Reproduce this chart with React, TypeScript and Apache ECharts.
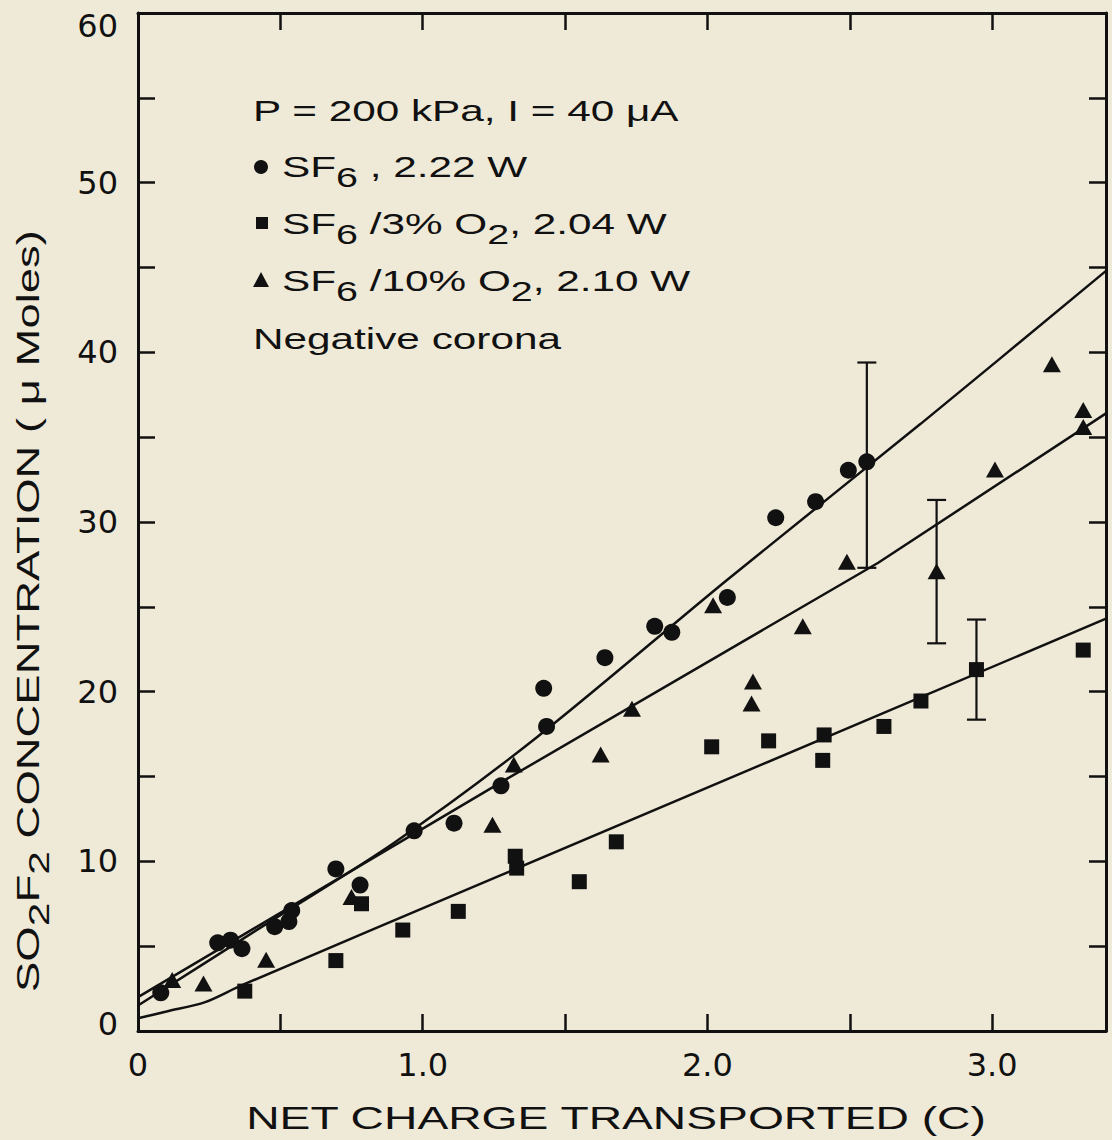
import React, { useEffect, useRef } from 'react';
import * as echarts from 'echarts';

// ---- tick labels ----
const xTickValues = [0, 1, 2, 3];
const xTickLabels = ['0', '1.0', '2.0', '3.0'];
const yTickValues = [0, 10, 20, 30, 40, 50, 60];
const yTickLabels = ['0', '10', '20', '30', '40', '50', '60'];

// ---- data: [net charge (C), SO2F2 (µmoles)] ----
const sf6Points = [
  [0.08, 2.25], [0.28, 5.2], [0.325, 5.35], [0.365, 4.85], [0.48, 6.15],
  [0.53, 6.45], [0.54, 7.1], [0.695, 9.55], [0.78, 8.6], [0.97, 11.8],
  [1.11, 12.25], [1.275, 14.45], [1.425, 20.2], [1.435, 17.95], [1.64, 22.0],
  [1.815, 23.85], [1.875, 23.5], [2.07, 25.55], [2.24, 30.25], [2.38, 31.2],
  [2.495, 33.05], [2.56, 33.55],
];
const sf6O2_3Points = [
  [0.375, 2.35], [0.695, 4.15], [0.785, 7.5], [0.93, 5.95], [1.125, 7.05],
  [1.325, 10.3], [1.33, 9.6], [1.55, 8.8], [1.68, 11.15], [2.015, 16.75],
  [2.215, 17.1], [2.41, 17.45], [2.405, 15.95], [2.62, 17.95], [2.75, 19.45],
  [2.945, 21.3], [3.32, 22.45],
];
const sf6O2_10Points = [
  [0.12, 3.0], [0.23, 2.8], [0.45, 4.2], [0.75, 7.9], [1.245, 12.15],
  [1.32, 15.7], [1.625, 16.3], [1.735, 19.0], [2.02, 25.1], [2.155, 19.3],
  [2.16, 20.6], [2.335, 23.85], [2.49, 27.65], [2.805, 27.1], [3.01, 33.1],
  [3.21, 39.3], [3.32, 36.6], [3.32, 35.6],
];

// ---- fitted curves ----
const sf6Fit = [[0, 1.5], [0.45, 6.3], [0.9, 11.1], [1.4, 17.3], [2.07, 26.6], [2.75, 35.8], [3.4, 44.8]];
const sf6O2_10Fit = [[0, 2.0], [1.3, 14.9], [2.6, 27.6], [3.4, 36.4]];
const sf6O2_3Fit = [[0, 0.75], [0.1, 1.15], [0.236, 1.7], [0.365, 2.7], [1.277, 9.2], [3.4, 24.3]];

// ---- error bars: [x, low, high] ----
const errorBars = [
  [2.56, 27.3, 39.4],
  [2.805, 22.85, 31.3],
  [2.945, 18.35, 24.25],
];

const BG = '#EFEAD8';
const INK = '#111111';
const SANS = '"Liberation Sans", Arial, Helvetica, sans-serif';
const LABEL_FONT = '"DejaVu Sans", sans-serif';

const fmtX = (v: number) => {
  const i = xTickValues.findIndex((t) => Math.abs(t - v) < 1e-6);
  return i >= 0 ? xTickLabels[i] : '';
};
const fmtY = (v: number) => {
  const i = yTickValues.findIndex((t) => Math.abs(t - v) < 1e-6);
  if (i < 0) return '';
  const s = yTickLabels[i];
  if (v === 60) return `{t|${s}}`;
  if (v === 0) return `{b|${s}}`;
  return `{n|${s}}`;
};

const axisLineStyle = { show: true, onZero: false, lineStyle: { color: INK, width: 3 } };
const axisTickStyle = { show: true, inside: true, length: 17, lineStyle: { color: INK, width: 2.5 } };

const subRich = (fs: number, pad: number) => ({
  sub: { fontFamily: SANS, fontSize: fs, fill: INK, padding: [pad, 0, 0, 0] },
});

const textBase = {
  fontFamily: SANS,
  fontSize: 30,
  fill: INK,
  lineHeight: 36,
  align: 'left',
  verticalAlign: 'middle',
};

const SX = 1.41;

const graphics: any[] = [
  { type: 'text', x: 253, y: 111, scaleX: SX, style: { ...textBase, text: 'P = 200 kPa, I = 40 μA' } },
  { type: 'circle', shape: { cx: 261, cy: 167, r: 7 }, style: { fill: INK } },
  { type: 'text', x: 282, y: 167, scaleX: SX, style: { ...textBase, text: 'SF{sub|6} , 2.22 W', rich: subRich(28, 20) } },
  { type: 'rect', shape: { x: 256, y: 217, width: 12, height: 12 }, style: { fill: INK } },
  { type: 'text', x: 282, y: 224, scaleX: SX, style: { ...textBase, text: 'SF{sub|6} /3% O{sub|2}, 2.04 W', rich: subRich(28, 20) } },
  { type: 'polygon', shape: { points: [[261, 272], [269, 287], [253, 287]] }, style: { fill: INK } },
  { type: 'text', x: 282, y: 281, scaleX: SX, style: { ...textBase, text: 'SF{sub|6} /10% O{sub|2}, 2.10 W', rich: subRich(28, 20) } },
  { type: 'text', x: 253, y: 339, scaleX: SX, style: { ...textBase, text: 'Negative corona' } },
  {
    type: 'text', x: 616, y: 1118, scaleX: 1.445,
    style: { fontFamily: SANS, fontSize: 32, fill: INK, align: 'center', verticalAlign: 'middle', text: 'NET CHARGE TRANSPORTED (C)' },
  },
  {
    type: 'text', x: 28, y: 611, rotation: Math.PI / 2, scaleX: 1.42,
    style: {
      fontFamily: SANS, fontSize: 32, fill: INK, lineHeight: 38, align: 'center', verticalAlign: 'middle',
      text: 'SO{sub|2}F{sub|2} CONCENTRATION ( μ Moles)',
      rich: subRich(30, 22),
    },
  },
];

const option: any = {
  animation: false,
  backgroundColor: BG,
  grid: { left: 138, right: 6, top: 13, bottom: 109, containLabel: false },
  xAxis: [
    {
      type: 'value', min: 0, max: 3.4, interval: 0.5, position: 'bottom',
      axisLine: axisLineStyle, axisTick: axisTickStyle,
      axisLabel: { show: true, margin: 18, fontFamily: LABEL_FONT, fontSize: 32, color: INK, formatter: fmtX, showMaxLabel: false },
      splitLine: { show: false },
    },
    {
      type: 'value', min: 0, max: 3.4, interval: 0.5, position: 'top',
      axisLine: axisLineStyle, axisTick: axisTickStyle,
      axisLabel: { show: false }, splitLine: { show: false },
    },
  ],
  yAxis: [
    {
      type: 'value', min: 0, max: 60, interval: 5, position: 'left',
      axisLine: axisLineStyle, axisTick: axisTickStyle,
      axisLabel: {
        show: true, margin: 20, fontFamily: LABEL_FONT, fontSize: 32, color: INK, formatter: fmtY,
        rich: {
          n: { fontFamily: LABEL_FONT, fontSize: 32, color: INK },
          t: { fontFamily: LABEL_FONT, fontSize: 32, color: INK, padding: [26, 0, 0, 0] },
          b: { fontFamily: LABEL_FONT, fontSize: 32, color: INK, padding: [0, 0, 14, 0] },
        },
      },
      splitLine: { show: false },
    },
    {
      type: 'value', min: 0, max: 60, interval: 5, position: 'right',
      axisLine: axisLineStyle, axisTick: axisTickStyle,
      axisLabel: { show: false }, splitLine: { show: false },
    },
  ],
  graphic: graphics,
  series: [
    {
      name: 'SF6 fit', type: 'line', data: sf6Fit, smooth: 0.3, showSymbol: false, symbol: 'none',
      lineStyle: { color: INK, width: 2.5 }, z: 2, silent: true,
    },
    {
      name: 'SF6/10% O2 fit', type: 'line', data: sf6O2_10Fit, showSymbol: false, symbol: 'none',
      lineStyle: { color: INK, width: 2.5 }, z: 2, silent: true,
    },
    {
      name: 'SF6/3% O2 fit', type: 'line', data: sf6O2_3Fit, smooth: 0.3, showSymbol: false, symbol: 'none',
      lineStyle: { color: INK, width: 2.5 }, z: 2, silent: true,
    },
    {
      name: 'Error bars', type: 'custom', data: errorBars, encode: { x: 0, y: [1, 2] }, z: 3,
      renderItem: (params: any, api: any) => {
        const x = api.value(0);
        const lo = api.coord([x, api.value(1)]);
        const hi = api.coord([x, api.value(2)]);
        const hw = 9.5;
        const st = { stroke: INK, lineWidth: 2.2 };
        return {
          type: 'group',
          children: [
            { type: 'line', shape: { x1: lo[0], y1: lo[1], x2: hi[0], y2: hi[1] }, style: st },
            { type: 'line', shape: { x1: lo[0] - hw, y1: lo[1], x2: lo[0] + hw, y2: lo[1] }, style: st },
            { type: 'line', shape: { x1: hi[0] - hw, y1: hi[1], x2: hi[0] + hw, y2: hi[1] }, style: st },
          ],
        };
      },
    },
    {
      name: 'SF6, 2.22 W', type: 'scatter', data: sf6Points, symbol: 'circle', symbolSize: 17,
      itemStyle: { color: INK, opacity: 1 }, z: 4,
    },
    {
      name: 'SF6/3% O2, 2.04 W', type: 'scatter', data: sf6O2_3Points, symbol: 'rect', symbolSize: 15,
      itemStyle: { color: INK, opacity: 1 }, z: 4,
    },
    {
      name: 'SF6/10% O2, 2.10 W', type: 'scatter', data: sf6O2_10Points, symbol: 'triangle', symbolSize: [18, 16],
      itemStyle: { color: INK, opacity: 1 }, z: 4,
    },
  ],
};

export default function App() {
  const ref = useRef<HTMLDivElement>(null);
  useEffect(() => {
    document.body.style.margin = '0';
    document.body.style.background = BG;
    const chart = echarts.init(ref.current as HTMLDivElement, null, { renderer: 'svg' });
    chart.setOption(option);
    return () => chart.dispose();
  }, []);
  return <div ref={ref} style={{ width: 1112, height: 1140, background: BG }} />;
}
